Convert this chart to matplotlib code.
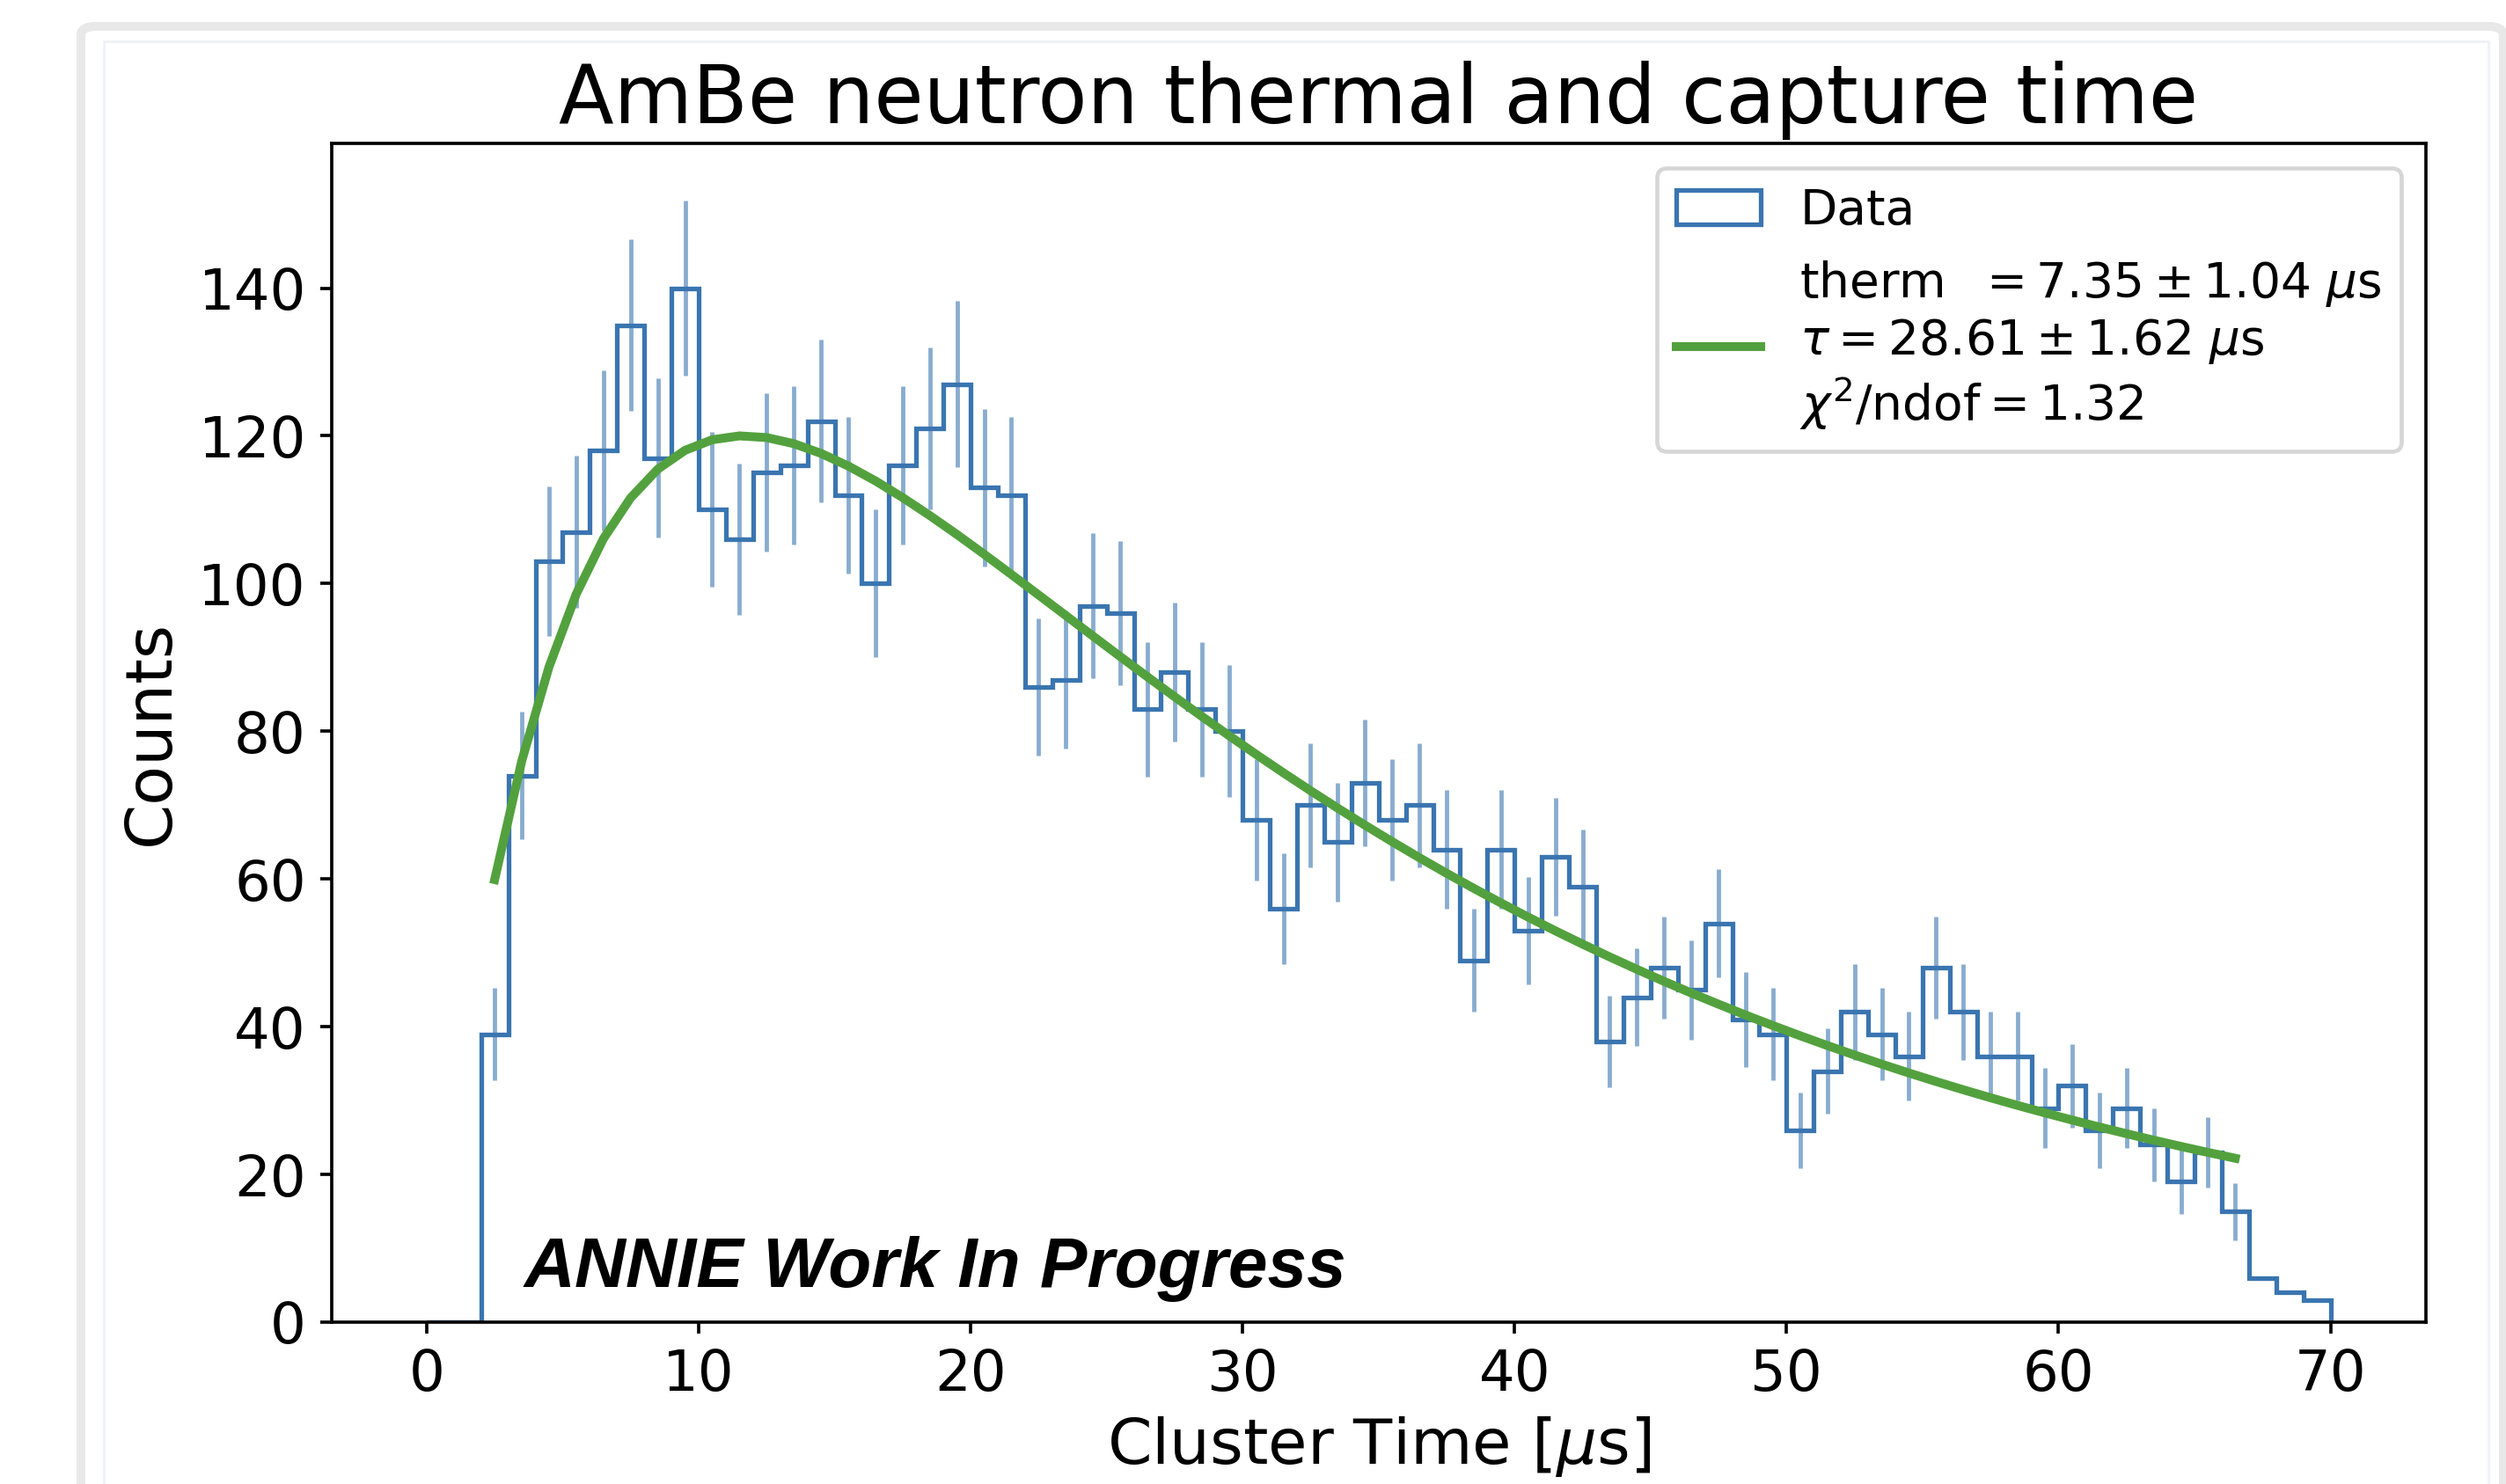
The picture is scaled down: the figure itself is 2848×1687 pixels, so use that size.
import numpy as np
import matplotlib
matplotlib.use("Agg")
import matplotlib.pyplot as plt
from matplotlib.patches import FancyBboxPatch, Rectangle

# ---- data ----
bin_edges = np.arange(0, 71, 1)  # 1 us bins from 0 to 70
counts = [0, 0, 39, 74, 103, 107, 118, 135, 117, 140,
          110, 106, 115, 116, 122, 112, 100, 116, 121, 127,
          113, 112, 86, 87, 97, 96, 83, 88, 83, 80,
          68, 56, 70, 65, 73, 68, 70, 64, 49, 64,
          53, 63, 59, 38, 44, 48, 45, 54, 41, 39,
          26, 34, 42, 39, 36, 48, 42, 36, 36, 29,
          32, 26, 29, 24, 19, 23, 15, 6, 4, 3]
fit_first_bin = 2      # fit / error bars cover bins 2..66
fit_last_bin = 66
# fit parameters shown in the legend
therm = 7.35
therm_err = 1.04
tau = 28.61
tau_err = 1.62
chi2_ndof = 1.32
amplitude = 226.8

title = "AmBe neutron thermal and capture time"
xlabel = r"Cluster Time [$\mu$s]"
ylabel = "Counts"
watermark = "ANNIE Work In Progress"

# ---- derived ----
counts = np.array(counts, dtype=float)
centers = 0.5 * (bin_edges[:-1] + bin_edges[1:])
sel = slice(fit_first_bin, fit_last_bin + 1)
xc = centers[sel]
yc = counts[sel]
yerr = np.sqrt(yc)
fit_y = amplitude * (1 - np.exp(-xc / therm)) * np.exp(-xc / tau)

blue = "#3a75b0"
green = "#53a13e"

DPI = 330
fig = plt.figure(figsize=(2848 / DPI, 1687 / DPI), dpi=DPI)
W, H = 2848, 1687

# screenshot-like frame decorations
fig.patches.append(FancyBboxPatch((92 / W, -0.05), (2845 - 92) / W, (H - 30) / H + 0.05,
                                  boxstyle="round,pad=0,rounding_size=0.006",
                                  transform=fig.transFigure, fill=False,
                                  edgecolor="#e8e8e8", linewidth=2.2, zorder=0))
fig.patches.append(Rectangle((118 / W, -0.05), (2828 - 118) / W, (H - 47) / H + 0.05,
                             transform=fig.transFigure, fill=False,
                             edgecolor="#edf1f5", linewidth=0.6, zorder=0))

ax = fig.add_axes([376.7 / W, 1 - 1503 / H, (2756.7 - 376.7) / W, (1503 - 163) / H])

ax.hist(centers, bins=bin_edges, weights=counts, histtype="step",
        color=blue, linewidth=1.15, label="Data")
ax.errorbar(xc, yc, yerr=yerr, fmt="none", ecolor=blue, alpha=0.6,
            elinewidth=1.05, capsize=0)
fit_label = ("therm  $= %.2f \\pm %.2f$ $\\mu$s\n"
             "$\\tau = %.2f \\pm %.2f$ $\\mu$s\n"
             "$\\chi^2$/ndof$ = %.2f$") % (therm, therm_err, tau, tau_err, chi2_ndof)
ax.plot(xc, fit_y, color=green, linewidth=2.2, label=fit_label)

ax.set_xlim(-3.5, 73.5)
ax.set_ylim(0, 159.6)
ax.set_xticks(np.arange(0, 71, 10))
ax.set_yticks(np.arange(0, 141, 20))
ax.tick_params(labelsize=14, length=2.8, width=0.8)
ax.set_xlabel(xlabel, fontsize=15.8, labelpad=3)
ax.set_ylabel(ylabel, fontsize=16)
ax.set_title(title, fontsize=20, pad=5)

ax.legend(loc="upper right", fontsize=12, handlelength=1.75)

ax.text(0.092, 0.03, watermark, transform=ax.transAxes,
        fontfamily="Liberation Sans", fontweight="bold", fontstyle="italic",
        fontsize=17.5, va="baseline", ha="left")

fig.savefig("out.png", dpi=DPI)
